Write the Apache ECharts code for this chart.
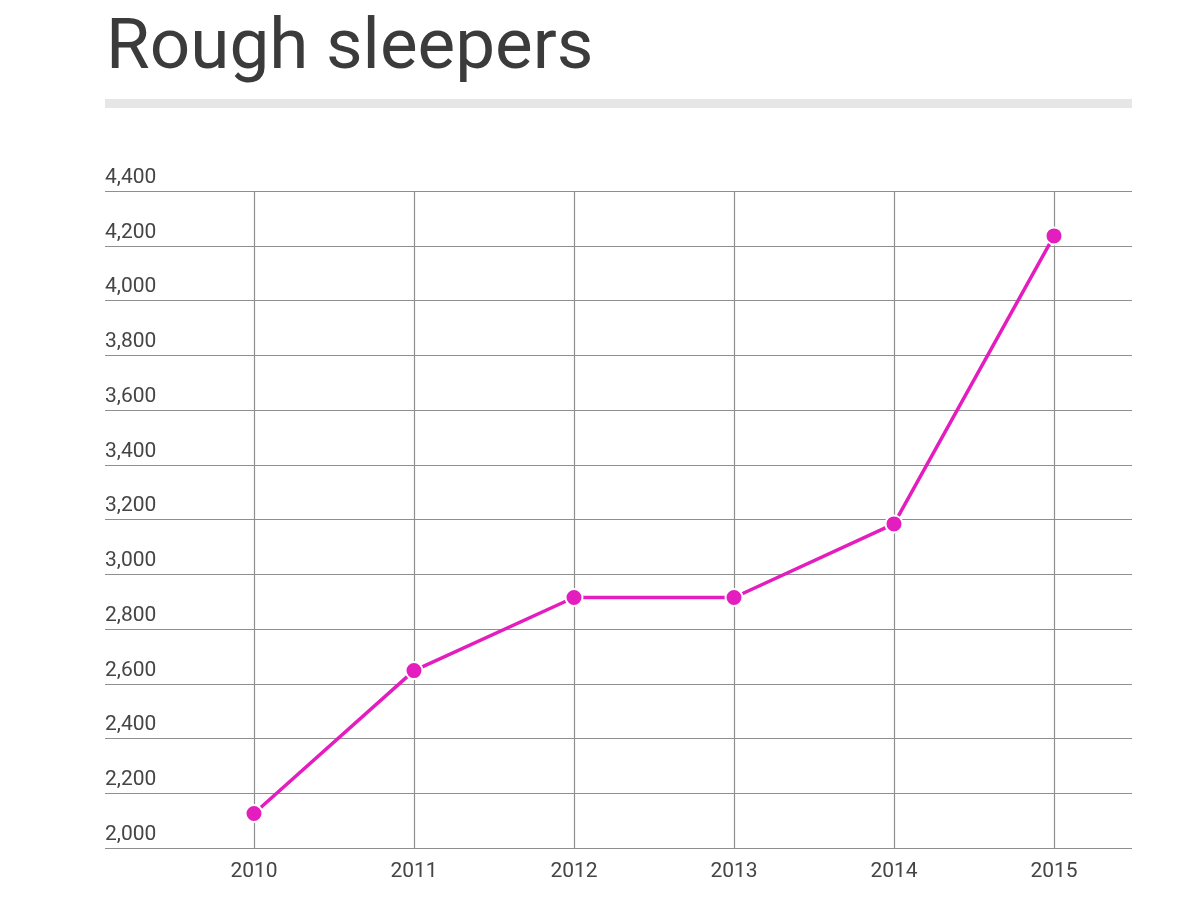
<!DOCTYPE html>
<html lang="en">
<head>
    <meta charset="UTF-8">
    <title>Rough sleepers</title>
    <script src="https://cdn.jsdelivr.net/npm/echarts@6/dist/echarts.min.js"></script>
    <style>
        html, body { margin: 0; padding: 0; background: #fff; }
        #chart { width: 1200px; height: 900px; }
    </style>
</head>
<body>
    <div id="chart"></div>
<script>
    // data
    var years = ['2010', '2011', '2012', '2013', '2014', '2015'];
    var sleepers = [2126, 2648, 2915, 2915, 3184, 4236];
    var yMin = 2000, yMax = 4400, yStep = 200;

    var pink = '#e41dbf';
    var gridLine = '#8f8f8f';
    var font = 'Roboto';

    var mCharts = echarts.init(document.getElementById('chart'));

    var option = {
        backgroundColor: '#fff',
        animation: false,
        title: {
            text: 'Rough sleepers',
            left: 101,
            top: 10,
            textStyle: {
                fontFamily: font,
                fontSize: 71,
                fontWeight: 'normal',
                color: '#3b3b3b'
            }
        },
        graphic: [
            {
                type: 'rect',
                shape: { x: 105, y: 99, width: 1027, height: 9 },
                style: { fill: '#e6e6e6' }
            }
        ],
        grid: [
            // wide grid: horizontal lines and the y labels
            { left: 105, right: 68, top: 191, bottom: 52 },
            // narrow grid: years, vertical lines and the line itself
            { left: 254, right: 146, top: 191, bottom: 52 }
        ],
        xAxis: [
            { type: 'value', gridIndex: 0, show: false, min: 0, max: 1 },
            {
                type: 'category',
                gridIndex: 1,
                data: years,
                boundaryGap: false,
                axisLine: { show: false },
                axisTick: { show: false },
                axisLabel: {
                    margin: 13,
                    fontFamily: font,
                    fontSize: 21,
                    color: '#454545'
                },
                splitLine: { show: true, lineStyle: { color: gridLine, width: 1.2 } }
            }
        ],
        yAxis: [
            {
                type: 'value',
                gridIndex: 0,
                min: yMin,
                max: yMax,
                interval: yStep,
                axisLine: { show: false },
                axisTick: { show: false },
                axisLabel: {
                    inside: true,
                    margin: 0,
                    verticalAlign: 'bottom',
                    padding: [0, 0, 3, 0],
                    fontFamily: font,
                    fontSize: 21,
                    color: '#454545',
                    formatter: function (v) { return v.toLocaleString('en-US'); }
                },
                splitLine: { show: true, lineStyle: { color: gridLine, width: 1.2 } }
            },
            {
                type: 'value',
                gridIndex: 1,
                min: yMin,
                max: yMax,
                interval: yStep,
                show: false,
                splitLine: { show: false }
            }
        ],
        series: [
            {
                type: 'line',
                xAxisIndex: 1,
                yAxisIndex: 1,
                data: sleepers,
                symbol: 'circle',
                symbolSize: 17,
                showAllSymbol: true,
                itemStyle: { color: pink, borderColor: '#fff', borderWidth: 2 },
                lineStyle: { color: pink, width: 3.5 },
                z: 5
            }
        ]
    };
    mCharts.setOption(option);
</script>
</body>
</html>
